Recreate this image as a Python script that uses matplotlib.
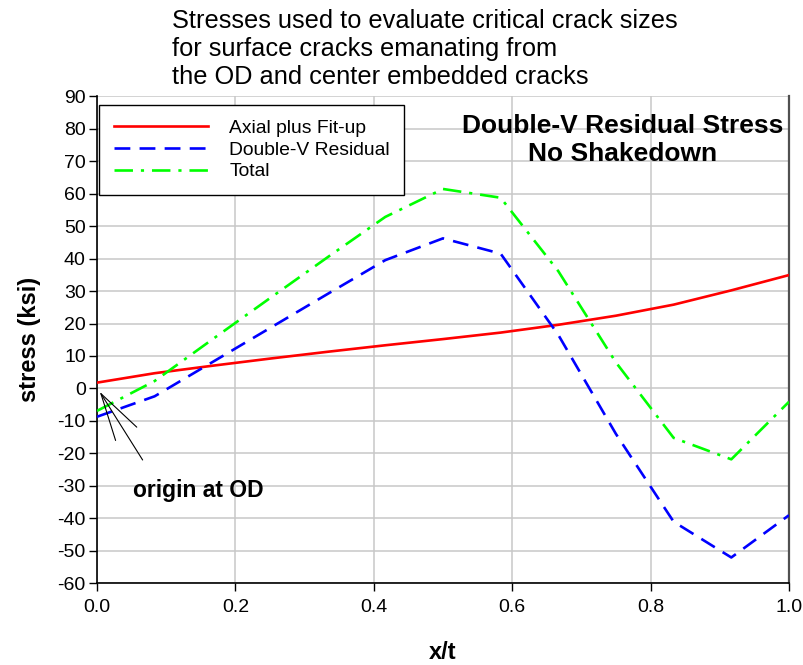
import matplotlib.pyplot as plt
import numpy as np

plt.rcParams['font.family'] = ['Liberation Sans', 'DejaVu Sans']
plt.rcParams['axes.unicode_minus'] = False

# through-wall position, sampled every twelfth of the thickness
x_t = [0.0, 1/12, 2/12, 3/12, 4/12, 5/12, 6/12, 7/12, 8/12, 9/12, 10/12, 11/12, 1.0]

axial_fitup = [1.8, 4.7, 7.0, 9.2, 11.3, 13.3, 15.2, 17.2, 19.6, 22.4, 25.8, 30.2, 34.9]
double_v = [-8.7, -2.4, 8.1, 18.6, 29.1, 39.5, 46.2, 41.5, 16.5, -14.0, -41.0, -52.0, -39.0]
total = [-6.9, 2.3, 15.1, 27.8, 40.4, 52.8, 61.4, 58.7, 36.1, 8.0, -15.2, -21.8, -4.1]

x_ticks = [0.0, 0.2, 0.4, 0.6, 0.8, 1.0]
y_ticks = list(range(-60, 91, 10))


def main():
    fig = plt.figure(figsize=(8.04, 6.65), dpi=100)
    ax = fig.add_axes([0.1206, 0.1226, 0.8607, 0.7330])

    ax.plot(x_t, axial_fitup, color='#ff0000', lw=1.9, label='Axial plus Fit-up', zorder=3)
    ax.plot(x_t, double_v, color='#0000ff', lw=1.9, dashes=(6, 3.5), label='Double-V Residual', zorder=3)
    ax.plot(x_t, total, color='#00ff00', lw=1.9, dashes=(7, 3, 1.2, 3), label='Total', zorder=3)

    ax.set_xlim(0, 1)
    ax.set_ylim(-60, 90)
    ax.set_xticks(x_ticks)
    ax.set_xticklabels([f'{v:.1f}' for v in x_ticks])
    ax.set_yticks(y_ticks)
    ax.tick_params(labelsize=14, length=6, width=1, direction='out')
    ax.tick_params(axis='x', pad=5)
    ax.tick_params(axis='y', pad=2)
    ax.grid(True, color='#c8c8c8', lw=1.1)
    ax.set_axisbelow(True)

    ax.spines['top'].set_visible(False)
    ax.spines['right'].set_color('#505050')
    ax.spines['right'].set_linewidth(1.6)
    ax.spines['left'].set_linewidth(1.2)
    ax.spines['bottom'].set_linewidth(1.2)

    ax.set_xlabel('x/t', fontsize=17, fontweight='bold', labelpad=18)
    ax.set_ylabel('stress (ksi)', fontsize=17, fontweight='bold', labelpad=12)

    leg = ax.legend(loc='upper left', bbox_to_anchor=(0.003, 0.982), borderaxespad=0,
                    fontsize=13.9, handlelength=4.9, handletextpad=1.1, labelspacing=0.22,
                    borderpad=0.75, fancybox=False, framealpha=1, edgecolor='black')
    leg.get_frame().set_linewidth(1.0)

    ax.text(0.759, 0.91, 'Double-V Residual Stress\nNo Shakedown', transform=ax.transAxes,
            ha='center', va='center', fontsize=19, fontweight='bold', linespacing=1.22)

    # arrow pointing to the origin of the through-wall coordinate
    ax.annotate('', xy=(0.004, -1.0), xytext=(0.066, -22.0),
                arrowprops=dict(arrowstyle='->,head_length=1.9,head_width=0.5',
                                lw=0.8, color='black', shrinkA=0, shrinkB=0), fontsize=18)
    ax.text(0.146, -31.3, 'origin at OD', fontsize=16.5, fontweight='bold', ha='center', va='center')

    fig.text(0.214, 0.986, 'Stresses used to evaluate critical crack sizes\nfor surface cracks emanating from\nthe OD and center embedded cracks',
             ha='left', va='top', fontsize=18.3, linespacing=1.2)

    fig.savefig('out.png', dpi=100)


if __name__ == "__main__":
    main()
